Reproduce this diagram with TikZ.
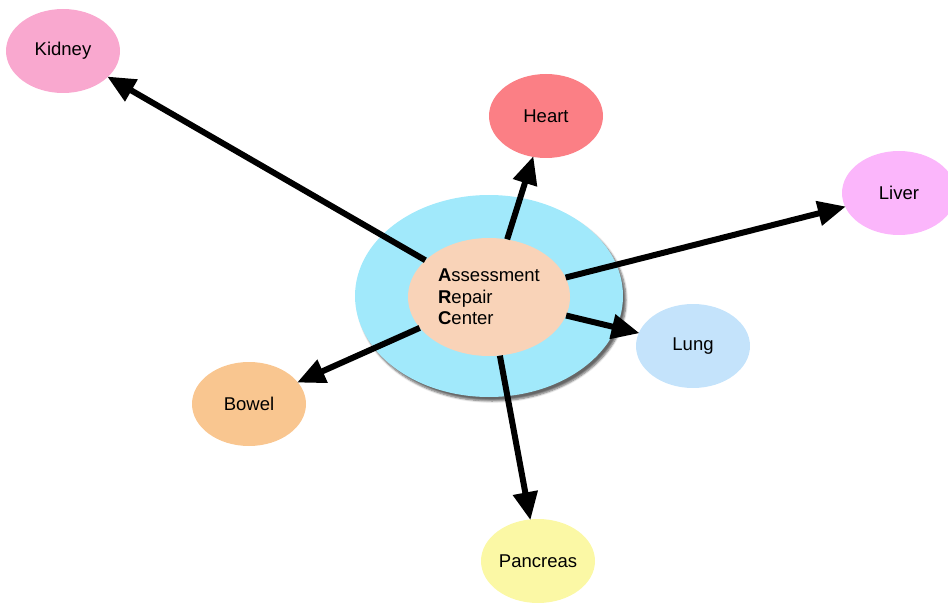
\documentclass[tikz,border=0pt]{standalone}
\usepackage{fontspec}
\setmainfont{Liberation Sans}
\usetikzlibrary{shapes.geometric,arrows.meta,shadows.blur}
\definecolor{ckid}{HTML}{F9A8CF}
\definecolor{cheart}{HTML}{FB7F85}
\definecolor{cliver}{HTML}{FBB6FB}
\definecolor{clung}{HTML}{C4E3FB}
\definecolor{cbowel}{HTML}{F9C690}
\definecolor{cpanc}{HTML}{FBF8A5}
\definecolor{couter}{HTML}{A1E9FB}
\definecolor{cinner}{HTML}{F9D3B8}
\tikzset{
  organ/.style={ellipse, minimum width=114pt, minimum height=84pt, inner sep=0pt,
    font=\fontsize{18.5}{22}\selectfont},
  arr/.style={line width=6pt, -{Triangle[length=28pt,width=24pt]}, shorten >=-1pt}
}
\begin{document}
\begin{tikzpicture}[x=1pt,y=-1pt]
\useasboundingbox (0,0) rectangle (948,604);
\node[ellipse, fill=couter, minimum width=268pt, minimum height=202pt,
  blur shadow={shadow xshift=3pt, shadow yshift=-4pt, shadow blur steps=6, shadow opacity=60}] (outer) at (489,296) {};
\node[ellipse, fill=cinner, minimum width=162pt, minimum height=118pt, inner sep=0pt,
  align=left, font=\fontsize{18.5}{21.5}\selectfont] (arc) at (489,297)
  {\textbf{A}ssessment\\\textbf{R}epair\\\textbf{C}enter};
\node[organ, fill=ckid] (kidney) at (63,51) {Kidney};
\node[organ, fill=cheart] (heart) at (546,116) {Heart};
\node[organ, fill=cliver] (liver) at (899,193) {Liver};
\node[organ, fill=clung] (lung) at (693,346) {Lung};
\node[organ, fill=cbowel] (bowel) at (249,404) {Bowel};
\node[organ, fill=cpanc] (pancreas) at (538,561) {Pancreas};
\draw[arr] (arc) -- (kidney);
\draw[arr] (arc) -- (heart);
\draw[arr] (arc) -- (liver);
\draw[arr] (arc) -- (lung);
\draw[arr] (arc) -- (bowel);
\draw[arr] (arc) -- (pancreas);
\end{tikzpicture}
\end{document}
